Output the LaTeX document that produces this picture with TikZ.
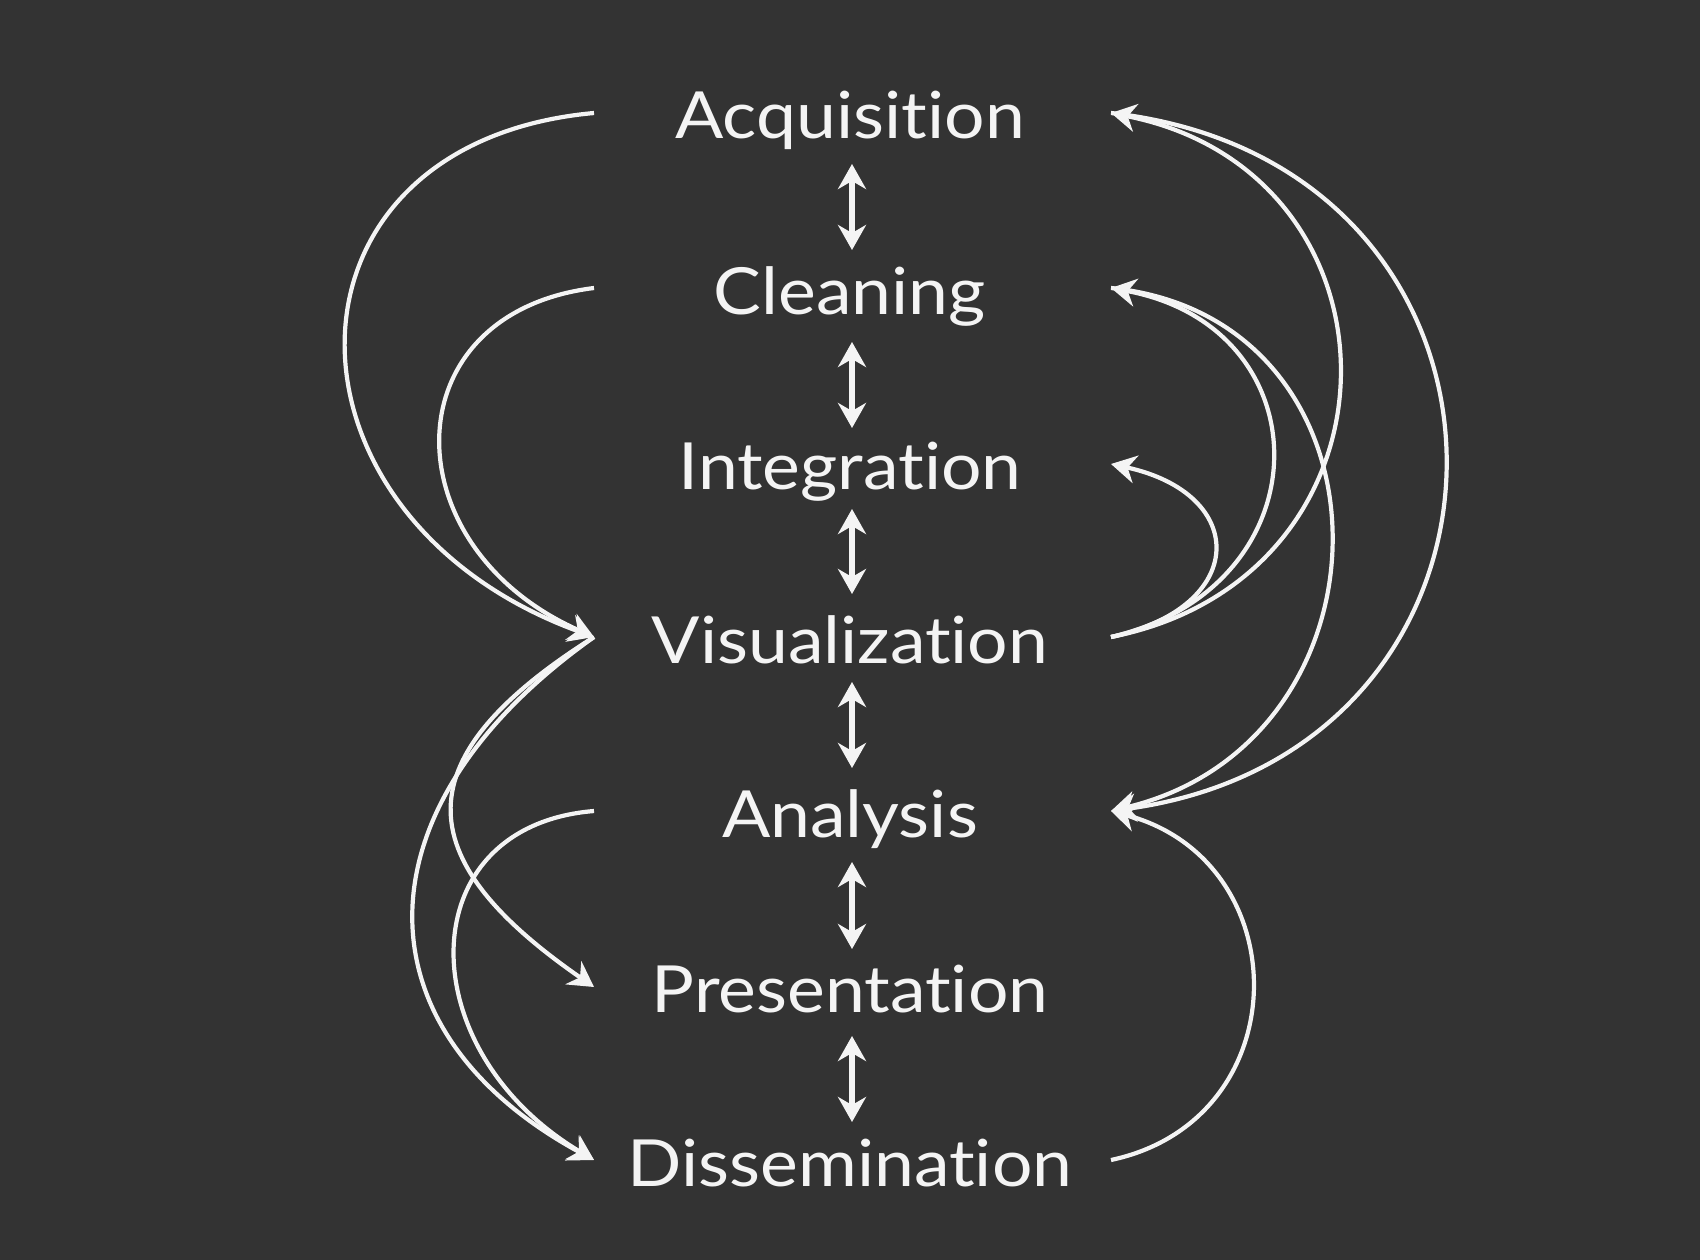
\documentclass[tikz,border=0pt]{standalone}
\usepackage{fontspec}
\setmainfont{Lato}[Ligatures=NoCommon,FakeStretch=1.1]
\usetikzlibrary{arrows.meta}
\definecolor{bg}{HTML}{333333}
\definecolor{fg}{HTML}{F4F4F4}
\begin{document}
\begin{tikzpicture}[x=1pt,y=-1pt,
  lbl/.style={anchor=base,text=fg,inner sep=0pt,font=\fontsize{65}{78}\selectfont},
  link/.style={draw=fg,line width=4.2pt,-{Stealth[length=25pt,width=28pt,inset=8pt]}},
  dbl/.style={draw=fg,line width=5.2pt,{Stealth[length=25pt,width=28pt,inset=8pt]}-{Stealth[length=25pt,width=28pt,inset=8pt]}}]
\fill[bg] (0,0) rectangle (1700,1260);
\useasboundingbox (0,0) rectangle (1700,1260);
% labels
\node[lbl] (acq) at (850,139) {Acquisition};
\node[lbl] (cle) at (850,314) {Cleaning};
\node[lbl] (int) at (850,489) {Integration};
\node[lbl] (vis) at (850,663) {Visualization};
\node[lbl] (ana) at (850,837) {Analysis};
\node[lbl] (pre) at (850,1012) {Presentation};
\node[lbl] (dis) at (850,1186) {Dissemination};
% ports
\coordinate (acqL) at (594,113);  \coordinate (acqR) at (1111,113);
\coordinate (cleL) at (594,288);  \coordinate (cleR) at (1111,288);
\coordinate (intL) at (594,464);  \coordinate (intR) at (1111,464);
\coordinate (visL) at (594,637);  \coordinate (visR) at (1111,637);
\coordinate (anaL) at (594,811);  \coordinate (anaR) at (1111,811);
\coordinate (preL) at (594,987);  \coordinate (preR) at (1111,987);
\coordinate (disL) at (594,1160); \coordinate (disR) at (1111,1160);
% vertical double arrows
\coordinate (a1) at (852,164); \coordinate (b1) at (852,250);
\coordinate (a2) at (852,342); \coordinate (b2) at (852,428);
\coordinate (a3) at (852,509); \coordinate (b3) at (852,594);
\coordinate (a4) at (852,682); \coordinate (b4) at (852,768);
\coordinate (a5) at (852,862); \coordinate (b5) at (852,949);
\coordinate (a6) at (852,1036); \coordinate (b6) at (852,1122);
\foreach \i in {1,...,6} \draw[dbl] (a\i) -- (b\i);
% left curves
\draw[link] (acqL) .. controls +(-330,30) and +(-330,-120) .. (visL);
\draw[link] (cleL) .. controls +(-204,25) and +(-204,-90) .. (visL);
\draw[link] (visL) .. controls +(-190,120) and +(-188,-130) .. (preL);
\draw[link] (visL) .. controls +(-240,170) and +(-240,-130) .. (disL);
\draw[link] (anaL) .. controls +(-185,15) and +(-185,-110) .. (disL);
% right curves
\draw[link] (visR) .. controls +(304,-60) and +(304,60) .. (acqR);
\draw[link] (visR) .. controls +(215,-50) and +(215,40) .. (cleR);
\draw[link] (visR) .. controls +(138,-30) and +(138,30) .. (intR);
\draw[link] (acqR) .. controls +(445,50) and +(445,-60) .. (anaR);
\draw[link] (cleR) .. controls +(293,30) and +(293,-70) .. (anaR);
\draw[link] (disR) .. controls +(188,-40) and +(188,50) .. (anaR);
\end{tikzpicture}
\end{document}
